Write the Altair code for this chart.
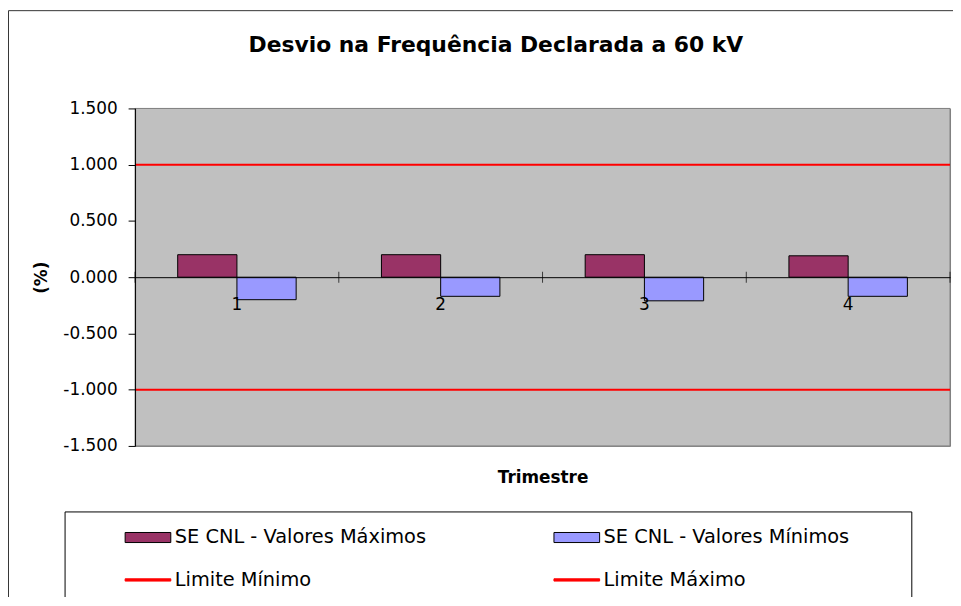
import altair as alt
import pandas as pd

# ---- data ----
CATEGORIES = ["1", "2", "3", "4"]
MAX_VALUES = [0.20, 0.20, 0.20, 0.19]
MIN_VALUES = [-0.20, -0.17, -0.21, -0.17]
SERIES = ["SE CNL - Valores Máximos", "SE CNL - Valores Mínimos", "Limite Mínimo", "Limite Máximo"]
LIMIT_VALUES = [-1.0, 1.0]
Y_TICKS = [-1.5, -1.0, -0.5, 0.0, 0.5, 1.0, 1.5]

TITLE = "Desvio na Frequência Declarada a 60 kV"
X_TITLE = "Trimestre"
Y_TITLE = "(%)"

FONT = "DejaVu Sans"
W, H = 821, 340
ZERO_PIX = 170  # distance of y=0 from the bottom of the plot

bars_df = pd.DataFrame({
    "cat": CATEGORIES * 2,
    "serie": [SERIES[0]] * 4 + [SERIES[1]] * 4,
    "valor": MAX_VALUES + MIN_VALUES,
})
limits_df = pd.DataFrame({"serie": SERIES[2:], "valor": LIMIT_VALUES})
ticks_df = pd.DataFrame({"cat": CATEGORIES})
last_df = pd.DataFrame({"cat": CATEGORIES[-1:]})
legend_df = pd.DataFrame({"serie": SERIES})
one = pd.DataFrame({"k": [0]})

x_scale = alt.Scale(domain=CATEGORIES, paddingInner=0, paddingOuter=0)
y_scale = alt.Scale(domain=[-1.5, 1.5], nice=False, zero=False)

x_axis = alt.Axis(
    title=X_TITLE, offset=-ZERO_PIX, ticks=False, tickSize=0, grid=False, zindex=1,
    domainColor="black", domainWidth=1, labelAngle=0,
    labelFont=FONT, labelFontSize=17, labelColor="black", labelPadding=20,
    titleFont=FONT, titleFontSize=17, titleFontWeight="bold", titleColor="black",
    titleY=207, titleX=W / 2, titleBaseline="alphabetic", titleAnchor="middle",
)
y_axis = alt.Axis(
    title=Y_TITLE, values=Y_TICKS, grid=False, zindex=1,
    labelExpr="replace(format(datum.value, '.3f'), '\u2212', '-')",
    domainColor="black", domainWidth=1, tickColor="black", tickSize=7,
    labelFont=FONT, labelFontSize=17, labelColor="black", labelPadding=11,
    titleFont=FONT, titleFontSize=17, titleFontWeight="bold", titleColor="black",
    titlePadding=12,
)

frame = alt.Chart(one).mark_rect(fill="transparent", fillOpacity=0, stroke="#333333", strokeWidth=1).encode(
    x=alt.value(-127.5), x2=alt.value(W + 60), y=alt.value(-98.5), y2=alt.value(H + 300)
)
plot_bg = alt.Chart(one).mark_rect(fill="#C0C0C0", stroke="#808080", strokeWidth=1).encode(
    x=alt.value(0), x2=alt.value(W), y=alt.value(0), y2=alt.value(H)
)
legend_box = alt.Chart(one).mark_rect(fill="transparent", fillOpacity=0, stroke="black", strokeWidth=1).encode(
    x=alt.value(-70.5), x2=alt.value(782.5), y=alt.value(406.5), y2=alt.value(520)
)

bars = alt.Chart(bars_df).mark_bar(stroke="black", strokeWidth=1).encode(
    x=alt.X("cat:N", scale=x_scale, axis=x_axis, sort=CATEGORIES),
    xOffset=alt.XOffset("serie:N", scale=alt.Scale(domain=SERIES[:2], paddingOuter=0.72, paddingInner=0)),
    y=alt.Y("valor:Q", scale=y_scale, axis=y_axis),
    fill=alt.Fill("serie:N", scale=alt.Scale(domain=SERIES[:2], range=["#993366", "#9999FF"]), legend=None),
)

limits = alt.Chart(limits_df).mark_rule(color="#FF0000", strokeWidth=2).encode(
    y=alt.Y("valor:Q", scale=y_scale),
)

cat_ticks = alt.Chart(ticks_df).mark_tick(orient="vertical", size=11, thickness=1, color="black").encode(
    x=alt.X("cat:N", scale=x_scale, bandPosition=0),
    y=alt.datum(0),
)
end_tick = alt.Chart(last_df).mark_tick(orient="vertical", size=11, thickness=1, color="black").encode(
    x=alt.X("cat:N", scale=x_scale, bandPosition=1),
    y=alt.datum(0),
)

RECT_PATH = "M-2,-0.44H2V0.44H-2Z"
LINE_PATH = "M-2,-0.1H2V0.1H-2Z"
leg = dict(
    orient="none", legendX=1, legendY=420, columns=2, direction="horizontal",
    columnPadding=126, rowPadding=21,
    title=None, padding=0, labelFont=FONT, labelFontSize=19.5, labelColor="black",
    symbolSize=529, symbolStrokeWidth=1, symbolOpacity=1, labelOffset=15, symbolOffset=0,
    labelLimit=400,
)
legend_layer = alt.Chart(legend_df).mark_point(filled=True, opacity=0).encode(
    color=alt.Color("serie:N", scale=alt.Scale(domain=SERIES, range=["#993366", "#9999FF", "#FF0000", "#FF0000"]),
                    legend=alt.Legend(**leg)),
    stroke=alt.Stroke("serie:N", scale=alt.Scale(domain=SERIES, range=["black", "black", "#FF0000", "#FF0000"]),
                      legend=alt.Legend(**leg)),
    shape=alt.Shape("serie:N", scale=alt.Scale(domain=SERIES, range=[RECT_PATH, RECT_PATH, LINE_PATH, LINE_PATH]),
                    legend=alt.Legend(**leg)),
)

chart = alt.layer(frame, plot_bg, legend_box, bars, limits, cat_ticks, end_tick, legend_layer).properties(
    width=W, height=H,
    autosize=alt.AutoSizeParams(type="none"),
    padding={"left": 128, "top": 99, "right": 3, "bottom": 150},
    title=alt.TitleParams(TITLE, font=FONT, fontSize=22, fontWeight="bold", color="black",
                          anchor="middle", dx=-47, dy=51),
).configure(
    background="white"
).configure_view(
    fill="#C0C0C0", stroke="#808080", strokeWidth=1
)

chart.save("out.html", embed_options={"renderer": "svg", "actions": False})
